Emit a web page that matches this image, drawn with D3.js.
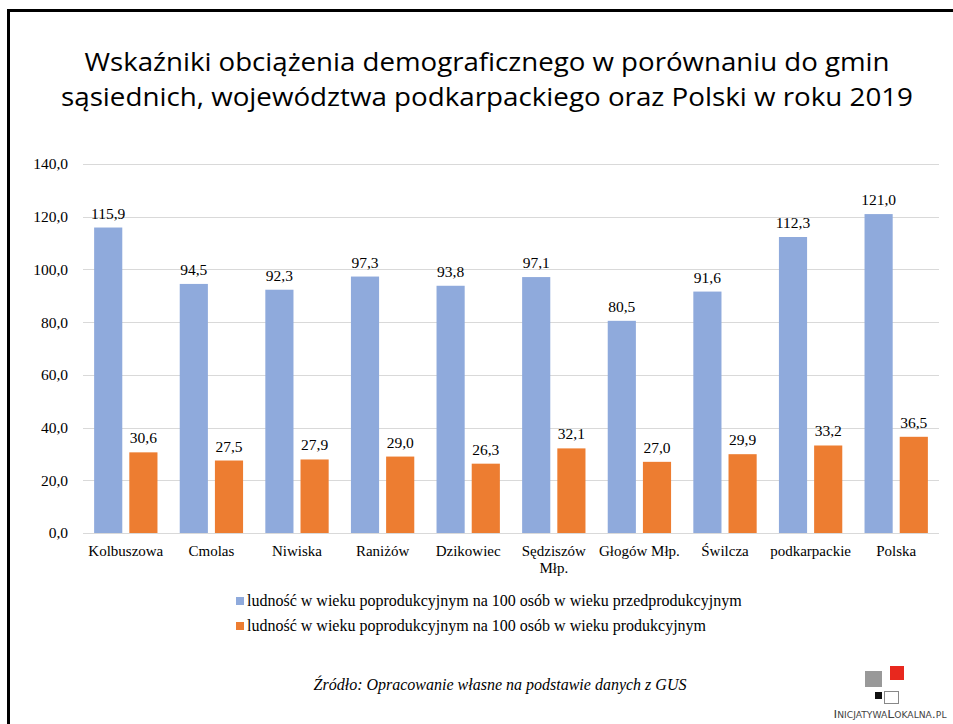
<!DOCTYPE html>
<html><head><meta charset="utf-8">
<script src="https://cdn.jsdelivr.net/npm/d3@7"></script>
<style>body{margin:0;background:#fff}svg{display:block}</style>
</head><body>
<svg id="chart" width="953" height="724"></svg>
<script>
const categories = ["Kolbuszowa","Cmolas","Niwiska","Raniżów","Dzikowiec","Sędziszów Młp.","Głogów Młp.","Świlcza","podkarpackie","Polska"];
const categoryLines = [["Kolbuszowa"],["Cmolas"],["Niwiska"],["Raniżów"],["Dzikowiec"],["Sędziszów","Młp."],["Głogów Młp."],["Świlcza"],["podkarpackie"],["Polska"]];
const seriesPre = [115.9, 94.5, 92.3, 97.3, 93.8, 97.1, 80.5, 91.6, 112.3, 121.0];
const seriesProd = [30.6, 27.5, 27.9, 29.0, 26.3, 32.1, 27.0, 29.9, 33.2, 36.5];
const seriesNames = ["ludność w wieku poprodukcyjnym na 100 osób w wieku przedprodukcyjnym","ludność w wieku poprodukcyjnym na 100 osób w wieku produkcyjnym"];
const yTicks = [0,20,40,60,80,100,120,140];
const titleLines = ["Wskaźniki obciążenia demograficznego w porównaniu do gmin","sąsiednich, województwa podkarpackiego oraz Polski w roku 2019"];
const sourceText = "Źródło: Opracowanie własne na podstawie danych z GUS";

const colors = ["#8FAADC","#ED7D31"];
const svg = d3.select("#chart");
const serif = "'Liberation Serif','Times New Roman',serif";
const fmt = v => v.toFixed(1).replace(".", ",");

// border
svg.append("path").attr("d","M8.5,724 V10.5 H953").attr("fill","none").attr("stroke","#000").attr("stroke-width",3);

// title
const titleW = [805, 852];
titleLines.forEach((t,i)=>{
  svg.append("text").attr("x",487).attr("y",71+i*34.5).attr("text-anchor","middle")
    .attr("font-family","'Open Sans','Noto Sans',sans-serif").attr("font-size",25).attr("fill","#000")
    .attr("textLength",titleW[i]).attr("lengthAdjust","spacingAndGlyphs").text(t);
});

const x0 = 83, x1 = 939, yBase = 533, yTop = 164;
const x = d3.scaleBand().domain(categories).range([x0,x1]).paddingInner(0).paddingOuter(0);
const y = d3.scaleLinear().domain([0,140]).range([yBase,yTop]);
const bw = x.bandwidth();
const sub = d3.scaleBand().domain([0,1]).range([bw*0.13, bw*0.87]).paddingInner(0.2);

// grid
svg.append("g").selectAll("line").data(yTicks).join("line")
  .attr("x1",x0).attr("x2",x1).attr("y1",d=>Math.round(y(d))+0.5).attr("y2",d=>Math.round(y(d))+0.5)
  .attr("stroke","#D9D9D9").attr("stroke-width",1);

// y axis labels
const yAxis = d3.axisLeft(y).tickValues(yTicks).tickFormat(fmt).tickSize(0).tickPadding(0);
const ya = svg.append("g").attr("transform",`translate(68,0)`).call(yAxis);
ya.select(".domain").remove();
ya.selectAll("text").attr("font-family",serif).attr("font-size",15.5).attr("fill","#000");

const series = [seriesPre, seriesProd];
series.forEach((vals,si)=>{
  const g = svg.append("g");
  g.selectAll("rect").data(vals).join("rect")
    .attr("x",(d,i)=>x(categories[i])+sub(si)).attr("width",sub.bandwidth())
    .attr("y",d=>y(d)).attr("height",d=>yBase-y(d)).attr("fill",colors[si]);
  g.selectAll("text").data(vals).join("text")
    .attr("x",(d,i)=>x(categories[i])+sub(si)+sub.bandwidth()/2).attr("y",d=>y(d)-9)
    .attr("text-anchor","middle").attr("font-family",serif).attr("font-size",15.5).attr("fill","#000")
    .text(fmt);
});

// x labels
const xl = svg.append("g");
categories.forEach((c,i)=>{
  const t = xl.append("text").attr("x",x(c)+bw/2).attr("y",556).attr("text-anchor","middle")
    .attr("font-family",serif).attr("font-size",15).attr("fill","#000");
  categoryLines[i].forEach((ln,j)=>{
    t.append("tspan").attr("x",x(c)+bw/2).attr("dy",j?17:0).text(ln);
  });
});

// legend
seriesNames.forEach((n,i)=>{
  const yy = 597 + i*25;
  svg.append("rect").attr("x",236).attr("y",yy).attr("width",8).attr("height",8).attr("fill",colors[i]);
  svg.append("text").attr("x",247).attr("y",yy+9).attr("font-family",serif).attr("font-size",16).attr("fill","#000").text(n);
});

// source
svg.append("text").attr("x",500).attr("y",690).attr("text-anchor","middle").attr("font-family",serif)
  .attr("font-style","italic").attr("font-size",16).attr("fill","#000").text(sourceText);

// logo
svg.append("rect").attr("x",865).attr("y",671).attr("width",17).attr("height",16).attr("fill","#999");
svg.append("rect").attr("x",890).attr("y",666).attr("width",14).attr("height",14).attr("fill","#E8281E");
svg.append("rect").attr("x",875).attr("y",692).attr("width",7).attr("height",7).attr("fill","#111");
svg.append("rect").attr("x",884.5).attr("y",691.5).attr("width",14).attr("height",12).attr("fill","#fff").attr("stroke","#888").attr("stroke-width",1);
svg.append("text").attr("x",890).attr("y",718).attr("text-anchor","middle").attr("font-family","'DejaVu Sans',sans-serif")
  .attr("font-size",11).attr("font-variant","small-caps").attr("fill","#444")
  .attr("textLength",113).attr("lengthAdjust","spacingAndGlyphs").text("InicjatywaLokalna.pl");
</script>
</body></html>
